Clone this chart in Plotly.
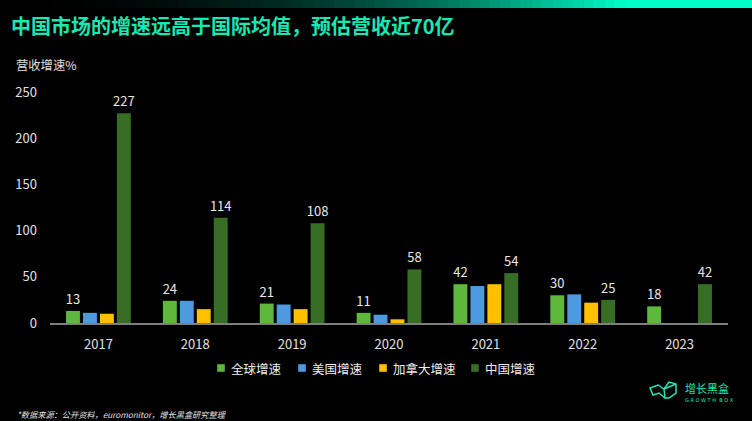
import plotly.graph_objects as go

years = ["2017", "2018", "2019", "2020", "2021", "2022", "2023"]
global_growth = [13, 24, 21, 11, 42, 30, 18]
us_growth = [11, 24, 20, 9, 40, 31, None]
canada_growth = [10, 15, 15, 4, 42, 22, None]
china_growth = [227, 114, 108, 58, 54, 25, 42]

series_names = ["全球增速", "美国增速", "加拿大增速", "中国增速"]
colors = ["#5db83c", "#4e9ae0", "#ffc000", "#376e24"]

W, H = 752, 421
L, R, T, B = 50, 24, 92, 98
pw, ph = W - L - R, H - T - B

def px(x):
    return (x - L) / pw

def py(y):
    return (H - B - y) / ph

font_cjk = "Noto Sans CJK SC, Noto Sans, sans-serif"

fig = go.Figure()
data = [global_growth, us_growth, canada_growth, china_growth]
labeled = [True, False, False, True]
for name, vals, col, lab in zip(series_names, data, colors, labeled):
    fig.add_trace(go.Bar(
        x=years, y=vals, name=name, marker_color=col, marker_line_width=0,
        text=[("" if v is None else str(v)) for v in vals] if lab else None,
        textposition="outside" if lab else "none",
        constraintext="none",
        textfont=dict(color="#e8e8e8", size=13, family=font_cjk),
        cliponaxis=False, showlegend=False,
    ))

shapes = []
annotations = []

# custom legend (square swatch + label), laid out like the reference
legend_x = [221, 302, 383, 475]
legend_y = 368
for name, col, lx in zip(series_names, colors, legend_x):
    shapes.append(dict(type="rect", xref="paper", yref="paper",
                       x0=px(lx - 3.8), x1=px(lx + 3.8), y0=py(legend_y + 3.8), y1=py(legend_y - 3.8),
                       fillcolor=col, line_width=0))
    annotations.append(dict(text=name, xref="paper", yref="paper",
                            x=px(lx + 8), y=py(legend_y), xanchor="left", yanchor="middle",
                            showarrow=False,
                            font=dict(size=12.5, color="#f0f0f0", family=font_cjk)))

# header gradient band
n = 60
x_end = 625
for i in range(n):
    x0 = i * x_end / n
    x1 = (i + 1) * x_end / n
    t = ((x0 + x1) / 2) / x_end
    t = t ** 2.2
    c = "rgb(%d,%d,%d)" % (0, int(255 * t), int(200 * t))
    shapes.append(dict(type="rect", xref="paper", yref="paper",
                       x0=px(x0), x1=px(x1 + 0.5), y0=py(8), y1=py(0),
                       fillcolor=c, line_width=0, layer="below"))
shapes.append(dict(type="rect", xref="paper", yref="paper",
                   x0=px(x_end), x1=px(W), y0=py(8), y1=py(0),
                   fillcolor="rgb(0,255,200)", line_width=0, layer="below"))

# logo icon (cube outline)
def pth(points):
    return "M " + " L ".join("%f,%f" % (px(a), py(b)) for a, b in points)

icon_col = "#1de9b6"
shapes.append(dict(type="path", xref="paper", yref="paper",
                   path=pth([(650, 388), (658, 385), (664, 389), (669, 382), (676, 384), (676, 393), (669, 398), (665, 398), (659, 393), (653, 395), (650, 388)]) + " Z",
                   line=dict(color=icon_col, width=1.5), fillcolor="rgba(0,0,0,0)"))
shapes.append(dict(type="path", xref="paper", yref="paper",
                   path=pth([(664, 389), (665, 398)]),
                   line=dict(color=icon_col, width=1.5)))
shapes.append(dict(type="path", xref="paper", yref="paper",
                   path=pth([(664, 389), (676, 384)]),
                   line=dict(color=icon_col, width=1.5)))

annotations += [
    dict(text="<b>中国市场的增速远高于国际均值，预估营收近70亿</b>", xref="paper", yref="paper",
         x=px(9), y=py(26), xanchor="left", yanchor="middle", showarrow=False,
         font=dict(size=20, color="#19e8b4", family=font_cjk)),
    dict(text="营收增速%", xref="paper", yref="paper",
         x=px(14), y=py(65), xanchor="left", yanchor="middle", showarrow=False,
         font=dict(size=12.3, color="#e0e0e0", family=font_cjk)),
    dict(text="<i>*数据来源：公开资料，euromonitor，增长黑盒研究整理</i>", xref="paper", yref="paper",
         x=px(15), y=py(414), xanchor="left", yanchor="middle", showarrow=False,
         font=dict(size=8.2, color="#e0e0e0", family=font_cjk)),
    dict(text="增长黑盒", xref="paper", yref="paper",
         x=px(683), y=py(388), xanchor="left", yanchor="middle", showarrow=False,
         font=dict(size=11, color=icon_col, family=font_cjk)),
    dict(text="G R O W T H  B O X", xref="paper", yref="paper",
         x=px(683), y=py(400), xanchor="left", yanchor="middle", showarrow=False,
         font=dict(size=5, color=icon_col, family="DejaVu Sans")),
]

fig.update_layout(
    width=W, height=H,
    margin=dict(l=L, r=R, t=T, b=B),
    paper_bgcolor="#000000", plot_bgcolor="#000000",
    barmode="group", bargap=0.3, bargroupgap=0.18,
    showlegend=False,
    xaxis=dict(showgrid=False, showline=True, linecolor="#7f7f7f", linewidth=1.5,
               tickfont=dict(size=13, color="#e0e0e0", family=font_cjk),
               ticks="", ticklabelstandoff=9, zeroline=False),
    yaxis=dict(range=[0, 250], dtick=50, showgrid=False, showline=False, zeroline=False,
               tickfont=dict(size=13, color="#e0e0e0", family=font_cjk),
               ticks="", ticklabelstandoff=12),
    shapes=shapes, annotations=annotations,
    font=dict(family=font_cjk),
)

fig.write_html("out.html")
